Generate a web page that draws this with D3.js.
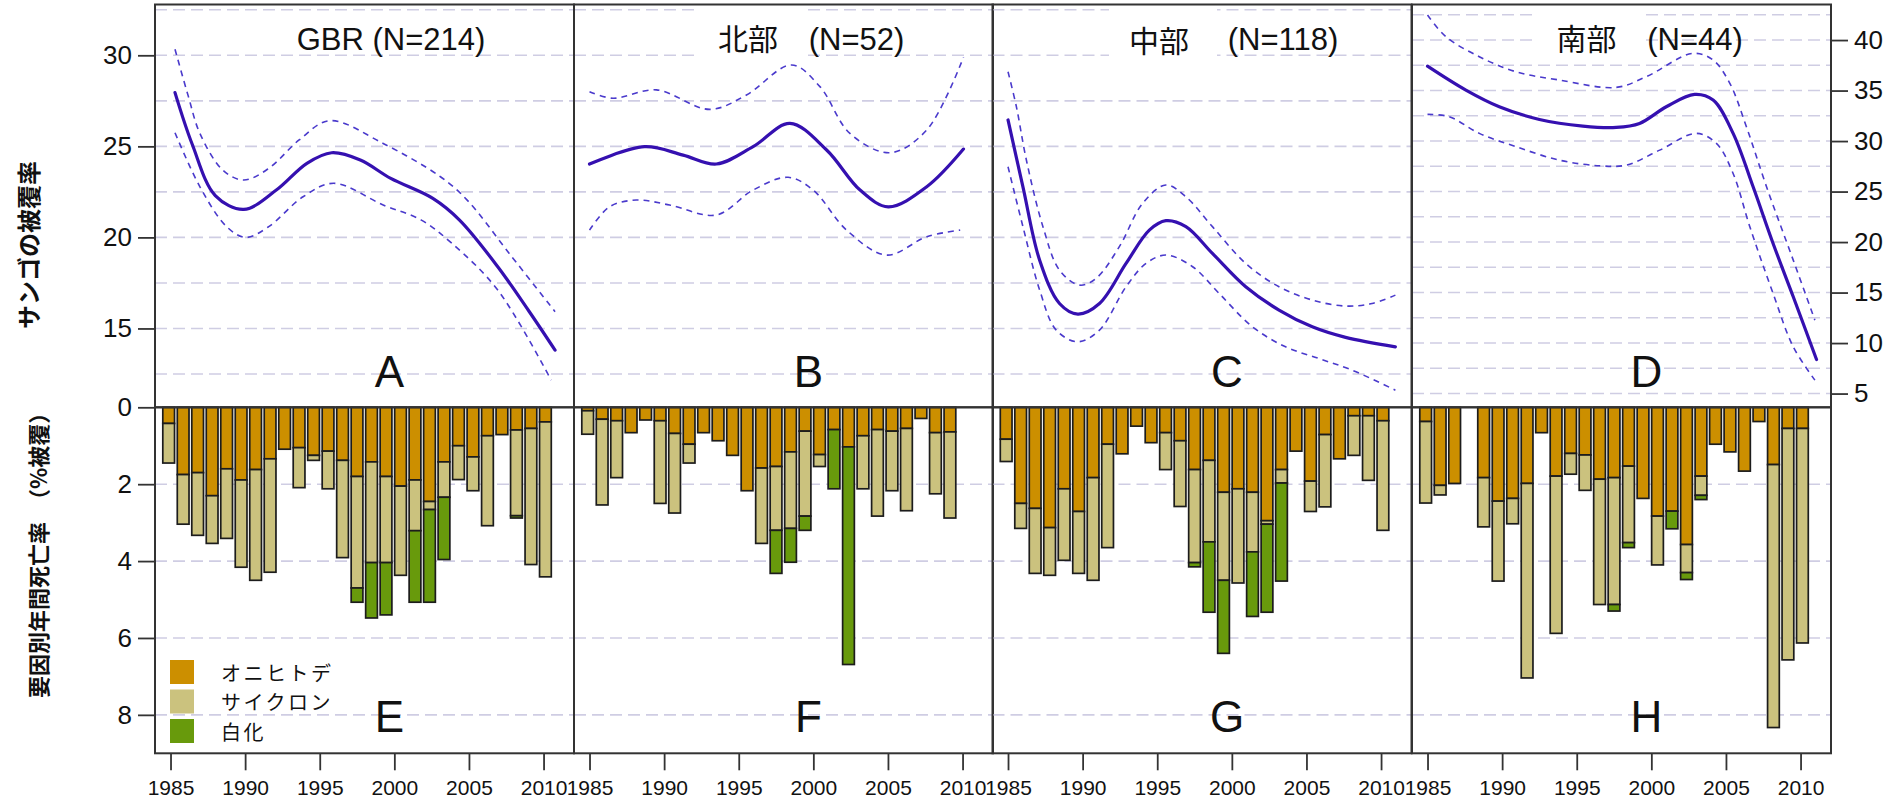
<!DOCTYPE html>
<html><head><meta charset="utf-8">
<script src="https://cdnjs.cloudflare.com/ajax/libs/d3/7.8.5/d3.min.js"></script>
<style>
body{margin:0;background:#fff}
svg{display:block}
text{font-family:"Liberation Sans",Arial,Helvetica,sans-serif;fill:#111}
.jp{font-family:"Noto Sans CJK JP","Noto Sans",sans-serif}
</style>
</head><body>
<svg id="chart" width="1889" height="809"></svg>
<script>
// ---------------- DATA ----------------
const years = [1985,1986,1987,1988,1989,1990,1991,1992,1993,1994,1995,1996,1997,1998,1999,2000,2001,2002,2003,2004,2005,2006,2007,2008,2009,2010,2011];
const xTickYears = [1985,1990,1995,2000,2005,2010];
const coverTicks = [15,20,25,30];
const coverTicksSouth = [5,10,15,20,25,30,35,40];
const coverGrid = [12.5,15,17.5,20,22.5,25,27.5,30,32.5];
const coverGridSouth = [5,7.5,10,12.5,15,17.5,20,22.5,25,27.5,30,32.5,35,37.5,40,42.5];
const mortTicks = [0,2,4,6,8];
const mortGrid = [2,4,6,8];

const regionNames = ["GBR","北部","中部","南部"];
const regionN = [214,52,118,44];
const topLetters = ["A","B","C","D"];
const bottomLetters = ["E","F","G","H"];
const causes = ["cots","cyclone","bleach"];
const causeLabels = ["オニヒトデ","サイクロン","白化"];
const causeColors = ["#cc8f00","#cbc27e","#689a0c"];
const yTitleTop = "サンゴの被覆率";
const yTitleBottom = "要因別年間死亡率　（%被覆）";

// smoothed coral cover [year, %]
const gbrMean  = [[1985.3,27.95],[1986.46,25.1],[1988.0,22.3],[1989.91,21.54],[1992.09,22.6],[1994.14,24.07],[1995.8,24.65],[1997.72,24.25],[1999.76,23.24],[2002.58,22.14],[2004.37,20.95],[2006.93,18.39],[2008.98,16.0],[2010.77,13.81]];
const gbrUpper = [[1985.3,30.33],[1986.2,27.73],[1986.97,25.71],[1988.5,23.7],[1989.91,23.15],[1991.58,23.79],[1993.62,25.35],[1995.67,26.41],[1999.25,25.16],[2003.09,23.33],[2004.88,22.05],[2007.7,19.12],[2010.77,15.92]];
const gbrLower = [[1985.3,25.75],[1986.97,22.78],[1988.76,20.59],[1990.04,20.0],[1991.58,20.59],[1993.88,22.23],[1995.93,22.97],[1999.25,21.78],[2001.81,20.95],[2003.86,19.67],[2006.93,17.11],[2010.51,12.16]];

const northMean  = [[1985.0,24.03],[1988.69,24.98],[1991.27,24.52],[1993.5,24.03],[1995.96,24.98],[1998.43,26.26],[2000.89,24.8],[2003.13,22.6],[2005.02,21.68],[2007.6,22.78],[2010.06,24.85]];
const northUpper = [[1985.0,28.0],[1986.57,27.64],[1989.48,28.1],[1993.06,27.03],[1995.52,27.82],[1998.54,29.47],[2000.44,28.28],[2002.45,25.71],[2005.14,24.65],[2007.6,25.9],[2010.06,29.89]];
const northLower = [[1985.0,20.4],[1986.34,21.68],[1988.13,22.05],[1990.37,21.78],[1993.5,21.23],[1995.96,22.6],[1998.31,23.3],[1999.99,22.6],[2002.23,20.4],[2004.91,19.03],[2007.6,20.04],[2009.84,20.4]];

const centralMean  = [[1985.0,26.45],[1986.0,22.78],[1987.12,18.75],[1988.45,16.37],[1989.68,15.79],[1991.13,16.37],[1992.91,18.57],[1994.47,20.4],[1995.58,20.92],[1996.92,20.59],[1998.7,19.12],[2000.93,17.29],[2003.16,16.01],[2005.39,15.09],[2007.62,14.51],[2010.96,13.99]];
const centralUpper = [[1985.0,29.1],[1985.56,27.18],[1986.23,24.25],[1987.34,20.59],[1988.45,18.2],[1989.79,17.38],[1990.9,17.75],[1992.46,19.49],[1994.02,21.87],[1995.58,22.88],[1996.92,22.23],[1998.7,20.59],[2000.93,18.57],[2003.16,17.29],[2005.39,16.56],[2007.62,16.23],[2009.4,16.37],[2010.96,16.83]];
const centralLower = [[1985.0,23.88],[1986.0,20.59],[1987.12,17.11],[1988.23,14.91],[1989.68,14.27],[1991.13,14.91],[1992.91,17.29],[1994.25,18.57],[1995.58,19.03],[1997.37,18.39],[1999.15,16.92],[2001.38,15.09],[2003.6,13.99],[2005.83,13.35],[2008.06,12.71],[2010.96,11.61]];

const southMean  = [[1985.0,37.42],[1987.57,35.05],[1989.81,33.4],[1992.5,32.14],[1995.41,31.48],[1997.65,31.35],[1999.21,31.75],[2001.0,33.4],[2002.9,34.62],[2004.14,34.06],[2005.48,30.76],[2006.82,25.47],[2008.16,19.86],[2009.51,14.58],[2011.07,8.37]];
const southUpper = [[1985.0,42.48],[1986.23,40.33],[1988.47,38.35],[1990.93,36.86],[1993.84,36.04],[1997.65,35.31],[1999.66,36.37],[2002.79,38.68],[2004.14,38.02],[2005.26,35.71],[2006.37,31.42],[2007.72,25.47],[2009.51,18.21],[2010.96,12.27]];
const southLower = [[1985.0,32.64],[1986.45,32.41],[1988.47,30.76],[1990.93,29.44],[1993.84,28.11],[1996.53,27.55],[1998.32,27.62],[2000.56,29.1],[2003.02,30.76],[2004.36,29.77],[2005.48,26.79],[2006.6,21.51],[2008.16,14.91],[2009.51,9.63],[2010.96,6.33]];

// annual mortality by cause (% cover), one value per year 1985-2011
const gbrCots    = [0.42,1.75,1.70,2.30,1.60,1.89,1.62,1.34,1.09,1.05,1.25,1.14,1.38,1.80,1.42,1.80,2.05,1.89,2.45,1.42,1.00,1.29,0.74,0.71,0.59,0.55,0.38];
const gbrCyclone = [1.03,1.29,1.63,1.24,1.81,2.27,2.88,2.95,0,1.04,0.13,0.98,2.53,2.90,2.62,2.24,2.32,1.32,0.21,0.92,0.88,0.88,2.34,0,2.23,3.54,4.03];
const gbrBleach  = [0,0,0,0,0,0,0,0,0,0,0,0,0,0.37,1.44,1.36,0,1.86,2.41,1.62,0,0,0,0,0.06,0,0];

const northCots    = [0.09,0.31,0.35,0.66,0.33,0.35,0.68,0.96,0.66,0.87,1.25,2.17,1.58,1.54,1.16,0.62,1.23,0.58,1.03,0.74,0.58,0.62,0.55,0.29,0.66,0.64,0];
const northCyclone = [0.61,2.23,1.48,0,0,2.15,2.07,0.49,0,0,0,0,1.96,1.66,1.99,2.21,0.31,0,0,1.38,2.25,1.55,2.14,0,1.59,2.24,0];
const northBleach  = [0,0,0,0,0,0,0,0,0,0,0,0,0,1.12,0.88,0.37,0,1.54,5.66,0,0,0,0,0,0,0,0];

const centralCots    = [0.83,2.50,2.63,3.13,2.12,2.71,1.83,0.96,1.21,0.49,0.92,0.66,0.87,1.62,1.38,2.21,2.12,2.21,2.95,1.62,1.14,1.92,0.71,1.34,0.22,0.22,0.35];
const centralCyclone = [0.58,0.65,1.69,1.24,1.86,1.61,2.67,2.69,0,0,0,0.96,1.71,2.42,2.12,2.29,2.45,1.55,0.09,0.35,0,0.79,1.88,0,1.03,1.68,2.85];
const centralBleach  = [0,0,0,0,0,0,0,0,0,0,0,0,0,0.11,1.83,1.90,0,1.68,2.29,2.55,0,0,0,0,0,0,0];

const southCots    = [0.37,2.03,1.98,0,1.83,2.44,2.37,1.98,0.66,1.79,1.20,1.24,1.87,1.83,1.53,2.37,2.83,2.70,3.57,1.79,0.96,1.16,1.66,0.37,1.49,0.55,0.55];
const southCyclone = [2.12,0.25,0,0,1.28,2.08,0.66,5.06,0,4.09,0.54,0.92,3.26,3.30,1.99,0,1.27,0,0.73,0.50,0,0,0,0,6.84,6.02,5.58];
const southBleach  = [0,0,0,0,0,0,0,0,0,0,0,0,0,0.17,0.13,0,0,0.46,0.18,0.11,0,0,0,0,0,0,0];

// --------------- LAYOUT ---------------
const panelLeft = [155, 574, 992.5, 1412];
const panelW = 419;
const topY = 4.5, midY = 407.3, botY = 753.3;
const xDomain = [1983.96, 2012.04];
const barSpan = [1984.39, 2010.61];
const titleJpOffset = [0, -35.5, -43, -35];
const titleNOffset = [26.5, 73, 81, 73.5];
const titleJpY = [0, 37, 39, 37];

const covers = [
  {mean: gbrMean, upper: gbrUpper, lower: gbrLower},
  {mean: northMean, upper: northUpper, lower: northLower},
  {mean: centralMean, upper: centralUpper, lower: centralLower},
  {mean: southMean, upper: southUpper, lower: southLower}
];
const morts = [
  {cots: gbrCots, cyclone: gbrCyclone, bleach: gbrBleach},
  {cots: northCots, cyclone: northCyclone, bleach: northBleach},
  {cots: centralCots, cyclone: centralCyclone, bleach: centralBleach},
  {cots: southCots, cyclone: southCyclone, bleach: southBleach}
];

const svg = d3.select("#chart");
const yCover = d3.scaleLinear().domain([10.67, 32.79]).range([midY, topY]);
const ySouth = d3.scaleLinear().domain([3.64, 43.52]).range([midY, topY]);
const yMort = d3.scaleLinear().domain([0, 9]).range([midY, botY]);

const lineColor = "#3510b0";
const gridColor = "#cfcde3";
const frameColor = "#333";

panelLeft.forEach((L, p) => {
  const g = svg.append("g");
  const x = d3.scaleLinear().domain(xDomain).range([L, L + panelW]);
  const yTop = p === 3 ? ySouth : yCover;
  const grid = p === 3 ? coverGridSouth : coverGrid;
  const cx = L + panelW / 2;

  // grid lines top
  g.selectAll(".gt").data(grid).join("line")
    .attr("x1", L).attr("x2", L + panelW)
    .attr("y1", d => yTop(d)).attr("y2", d => yTop(d))
    .attr("stroke", gridColor).attr("stroke-width", 1.6).attr("stroke-dasharray", "12,6");
  // grid lines bottom
  g.selectAll(".gb").data(mortGrid).join("line")
    .attr("x1", L).attr("x2", L + panelW)
    .attr("y1", d => yMort(d)).attr("y2", d => yMort(d))
    .attr("stroke", gridColor).attr("stroke-width", 1.6).attr("stroke-dasharray", "12,6");

  // titles
  if (p === 0) {
    g.append("text").attr("x", cx + titleNOffset[p]).attr("y", 50)
      .attr("text-anchor", "middle").attr("font-size", 31)
      .text(`${regionNames[p]} (N=${regionN[p]})`);
  } else {
    g.append("rect").attr("x", cx + titleJpOffset[p] - 50).attr("y", 8)
      .attr("width", 108).attr("height", 50).attr("fill", "#fff");
    g.append("text").attr("class", "jp").attr("x", cx + titleJpOffset[p]).attr("y", titleJpY[p])
      .attr("text-anchor", "middle").attr("dominant-baseline", "central")
      .attr("font-size", 30).text(regionNames[p]);
    g.append("text").attr("x", cx + titleNOffset[p]).attr("y", 50)
      .attr("text-anchor", "middle").attr("font-size", 31)
      .text(`(N=${regionN[p]})`);
  }

  // curves
  const line = d3.line().x(d => x(d[0])).y(d => yTop(d[1])).curve(d3.curveCatmullRom.alpha(0.5));
  const c = covers[p];
  [c.upper, c.lower].forEach(s => {
    g.append("path").attr("d", line(s)).attr("fill", "none")
      .attr("stroke", "#4a3acc").attr("stroke-width", 1.6).attr("stroke-dasharray", "6,5");
  });
  g.append("path").attr("d", line(c.mean)).attr("fill", "none")
    .attr("stroke", lineColor).attr("stroke-width", 3.2).attr("stroke-linecap", "round");

  // bars
  const m = morts[p];
  const rows = years.map((yr, i) => ({year: yr, cots: m.cots[i], cyclone: m.cyclone[i], bleach: m.bleach[i]}));
  const stack = d3.stack().keys(causes)(rows);
  const xb = d3.scaleBand().domain(years).range([x(barSpan[0]), x(barSpan[1])])
    .paddingInner(0.19).paddingOuter(0.095);
  stack.forEach((layer, k) => {
    g.append("g").selectAll("rect")
      .data(layer.filter(d => d[1] - d[0] > 0.001))
      .join("rect")
      .attr("x", d => xb(d.data.year))
      .attr("width", xb.bandwidth())
      .attr("y", d => yMort(d[0]))
      .attr("height", d => yMort(d[1]) - yMort(d[0]))
      .attr("fill", causeColors[k])
      .attr("stroke", "#1c1c1c").attr("stroke-width", 1.7);
  });

  // panel letters
  g.append("text").attr("x", cx + 25).attr("y", 386.7).attr("text-anchor", "middle")
    .attr("font-size", 44).text(topLetters[p]);
  g.append("text").attr("x", cx + 25).attr("y", 731.7).attr("text-anchor", "middle")
    .attr("font-size", 44).text(bottomLetters[p]);

  // x axis
  const ax = g.append("g").attr("transform", `translate(0,${botY})`)
    .call(d3.axisBottom(x).tickValues(xTickYears).tickFormat(d3.format("d")).tickSize(17).tickPadding(10));
  ax.select(".domain").remove();
  ax.selectAll("line").attr("stroke", frameColor).attr("stroke-width", 1.8);
  ax.selectAll("text").attr("font-size", 21).attr("fill", "#111")
    .attr("font-family", "Liberation Sans, Arial, sans-serif");

  // frames
  g.append("rect").attr("x", L).attr("y", topY).attr("width", panelW).attr("height", midY - topY)
    .attr("fill", "none").attr("stroke", frameColor).attr("stroke-width", 2);
  g.append("rect").attr("x", L).attr("y", midY).attr("width", panelW).attr("height", botY - midY)
    .attr("fill", "none").attr("stroke", frameColor).attr("stroke-width", 2);

  if (p === 0) {
    const al = g.append("g").attr("transform", `translate(${L},0)`)
      .call(d3.axisLeft(yCover).tickValues(coverTicks).tickSize(17).tickPadding(6));
    const bl = g.append("g").attr("transform", `translate(${L},0)`)
      .call(d3.axisLeft(yMort).tickValues(mortTicks).tickSize(17).tickPadding(6));
    [al, bl].forEach(a => {
      a.select(".domain").remove();
      a.selectAll("line").attr("stroke", frameColor).attr("stroke-width", 1.8);
      a.selectAll("text").attr("font-size", 26).attr("fill", "#111")
        .attr("font-family", "Liberation Sans, Arial, sans-serif");
    });
    // legend
    const lg = g.append("g");
    causeLabels.forEach((lab, k) => {
      lg.append("rect").attr("x", 170).attr("y", 660 + k * 29.5).attr("width", 24).attr("height", 24)
        .attr("fill", causeColors[k]);
      lg.append("text").attr("class", "jp").attr("x", 221).attr("y", 672 + k * 29.5)
        .attr("dominant-baseline", "central").attr("font-size", 20)
        .attr("letter-spacing", 2.5).text(lab);
    });
  }
  if (p === 3) {
    const ar = g.append("g").attr("transform", `translate(${L + panelW},0)`)
      .call(d3.axisRight(ySouth).tickValues(coverTicksSouth).tickSize(17).tickPadding(6));
    ar.select(".domain").remove();
    ar.selectAll("line").attr("stroke", frameColor).attr("stroke-width", 1.8);
    ar.selectAll("text").attr("font-size", 26).attr("fill", "#111")
      .attr("font-family", "Liberation Sans, Arial, sans-serif");
  }
});

// y axis titles
svg.append("text").attr("class", "jp").attr("transform", "translate(27,245) rotate(-90)")
  .attr("text-anchor", "middle").attr("dominant-baseline", "central")
  .attr("font-size", 24).attr("font-weight", "bold").text(yTitleTop);
svg.append("text").attr("class", "jp").attr("transform", "translate(37,698) rotate(-90)")
  .attr("text-anchor", "start").attr("dominant-baseline", "central")
  .attr("font-size", 22).attr("font-weight", "bold").text(yTitleBottom);
</script>
</body></html>
